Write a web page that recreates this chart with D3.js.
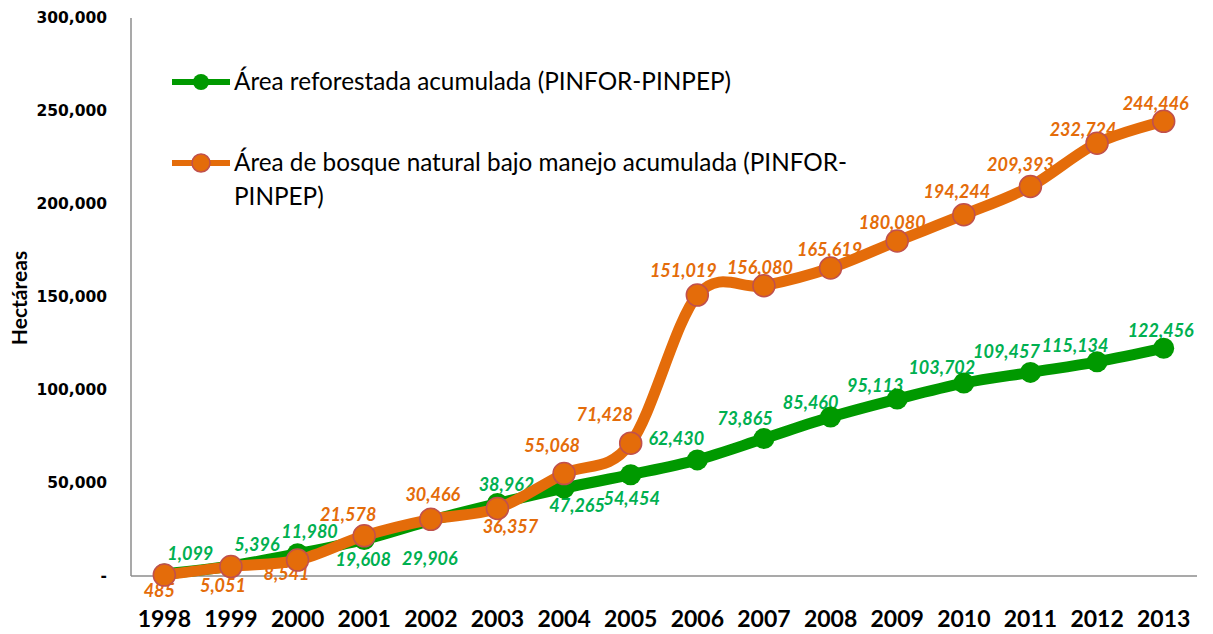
<!DOCTYPE html>
<html>
<head>
<meta charset="utf-8">
<script src="https://cdn.jsdelivr.net/npm/d3@7"></script>
<style>
  body { margin: 0; background: #fff; }
  svg text { font-family: Lato, "Open Sans", sans-serif; }
</style>
</head>
<body>
<div id="chart"></div>
<script>
// data
var years = ["1998","1999","2000","2001","2002","2003","2004","2005","2006","2007","2008","2009","2010","2011","2012","2013"];
var reforestada = [1099, 5396, 11980, 19608, 29906, 38962, 47265, 54454, 62430, 73865, 85460, 95113, 103702, 109457, 115134, 122456];
var bosque = [485, 5051, 8541, 21578, 30466, 36357, 55068, 71428, 151019, 156080, 165619, 180080, 194244, 209393, 232724, 244446];
var yTicks = [0, 50000, 100000, 150000, 200000, 250000, 300000];

// label offsets (px) relative to each marker
var greenLabelDx = [26, 26, 12, -1, -1, 9, 13, 1, -21, -19, -20, -22, -22, -24, -22, -3];
var greenLabelDy = [-20, -21, -22, 20, 38, -19, 18, 24, -21, -20, -14, -13, -15, -21, -16, -18];
var orangeLabelDx = [-5, -8, -11, -16, 2, 13, -12, -26, -14, -4, -1, -5, -7, -10, -14, -8];
var orangeLabelDy = [16, 19, 14, -21, -25, 18, -28, -28, -24, -18, -18, -18, -23, -22, -13, -18];

var width = 1213, height = 634;
var m_left = 131, m_right = 1197, m_top = 18, m_bottom = 576;

var svg = d3.select("#chart").append("svg")
  .attr("width", width)
  .attr("height", height)

var x = d3.scalePoint().domain(years).range([m_left, m_right]).padding(0.5)
var y = d3.scaleLinear().domain([0, 300000]).range([m_bottom, m_top])
var fmt = d3.format(",")

//axes lines
svg.append("line").attr("x1", m_left).attr("x2", m_left).attr("y1", m_top).attr("y2", m_bottom)
  .style("stroke", "#8c8c8c").style("stroke-width", 1.5)
svg.append("line").attr("x1", m_left).attr("x2", m_right).attr("y1", m_bottom).attr("y2", m_bottom)
  .style("stroke", "#8c8c8c").style("stroke-width", 1.5)

//y tick labels
svg.selectAll(".ytick").data(yTicks).enter().append("text")
  .attr("x", 107).attr("y", function(d){ return y(d); })
  .attr("dy", "0.35em")
  .attr("text-anchor", "end")
  .style("font-family", "'DejaVu Sans', sans-serif")
  .style("font-size", "15.5px").style("font-weight", "bold")
  .text(function(d){ return d == 0 ? "-" : fmt(d); })

//x tick labels
svg.selectAll(".xtick").data(years).enter().append("text")
  .attr("x", function(d){ return x(d); }).attr("y", 627)
  .attr("text-anchor", "middle")
  .style("font-size", "23px").style("font-weight", "bold")
  .text(function(d){ return d; })

//axis title
svg.append("text")
  .attr("transform", "translate(27,298) rotate(-90)")
  .attr("text-anchor", "middle")
  .style("font-size", "21px").style("font-weight", "bold")
  .text("Hectáreas")

var green = "#009900", greenText = "#00b050"
var orange = "#e46c0a", orangeEdge = "#c0504d"

//data labels (drawn under the lines like the original)
svg.selectAll(".glab").data(reforestada).enter().append("text")
  .attr("x", function(d, i){ return x(years[i]) + greenLabelDx[i]; })
  .attr("y", function(d, i){ return y(d) + greenLabelDy[i]; })
  .attr("dy", "0.35em").attr("text-anchor", "middle")
  .style("font-size", "18px").style("font-weight", "bold").style("font-style", "italic")
  .style("fill", greenText)
  .text(function(d){ return fmt(d); })

svg.selectAll(".olab").data(bosque).enter().append("text")
  .attr("x", function(d, i){ return x(years[i]) + orangeLabelDx[i]; })
  .attr("y", function(d, i){ return y(d) + orangeLabelDy[i]; })
  .attr("dy", "0.35em").attr("text-anchor", "middle")
  .style("font-size", "18px").style("font-weight", "bold").style("font-style", "italic")
  .style("fill", orange)
  .text(function(d){ return fmt(d); })

var line = d3.line()
  .x(function(d, i){ return x(years[i]); })
  .y(function(d){ return y(d); })
  .curve(d3.curveCatmullRom.alpha(0))

//green series
svg.append("path").datum(reforestada).attr("d", line)
  .style("fill", "none").style("stroke", green).style("stroke-width", 11)
svg.selectAll(".gdot").data(reforestada).enter().append("circle")
  .attr("cx", function(d, i){ return x(years[i]); })
  .attr("cy", function(d){ return y(d); })
  .attr("r", 10.5).style("fill", green)

//orange series
svg.append("path").datum(bosque).attr("d", line)
  .style("fill", "none").style("stroke", orange).style("stroke-width", 11)
svg.selectAll(".odot").data(bosque).enter().append("circle")
  .attr("cx", function(d, i){ return x(years[i]); })
  .attr("cy", function(d){ return y(d); })
  .attr("r", 11).style("fill", orange)
  .style("stroke", orangeEdge).style("stroke-width", 1.5)

//legend
var lg = svg.append("g")
lg.append("line").attr("x1", 172).attr("x2", 230).attr("y1", 82).attr("y2", 82)
  .style("stroke", green).style("stroke-width", 6)
lg.append("circle").attr("cx", 201).attr("cy", 82).attr("r", 8).style("fill", green)
lg.append("text").attr("x", 234).attr("y", 90)
  .style("font-size", "24.3px")
  .text("Área reforestada acumulada (PINFOR-PINPEP)")

lg.append("line").attr("x1", 172).attr("x2", 230).attr("y1", 163).attr("y2", 163)
  .style("stroke", orange).style("stroke-width", 6)
lg.append("circle").attr("cx", 201).attr("cy", 163).attr("r", 9)
  .style("fill", orange).style("stroke", orangeEdge).style("stroke-width", 1.5)
lg.append("text").attr("x", 234).attr("y", 171)
  .style("font-size", "24.3px")
  .text("Área de bosque natural bajo manejo acumulada (PINFOR-")
lg.append("text").attr("x", 234).attr("y", 205)
  .style("font-size", "24.3px")
  .text("PINPEP)")
</script>
</body>
</html>
